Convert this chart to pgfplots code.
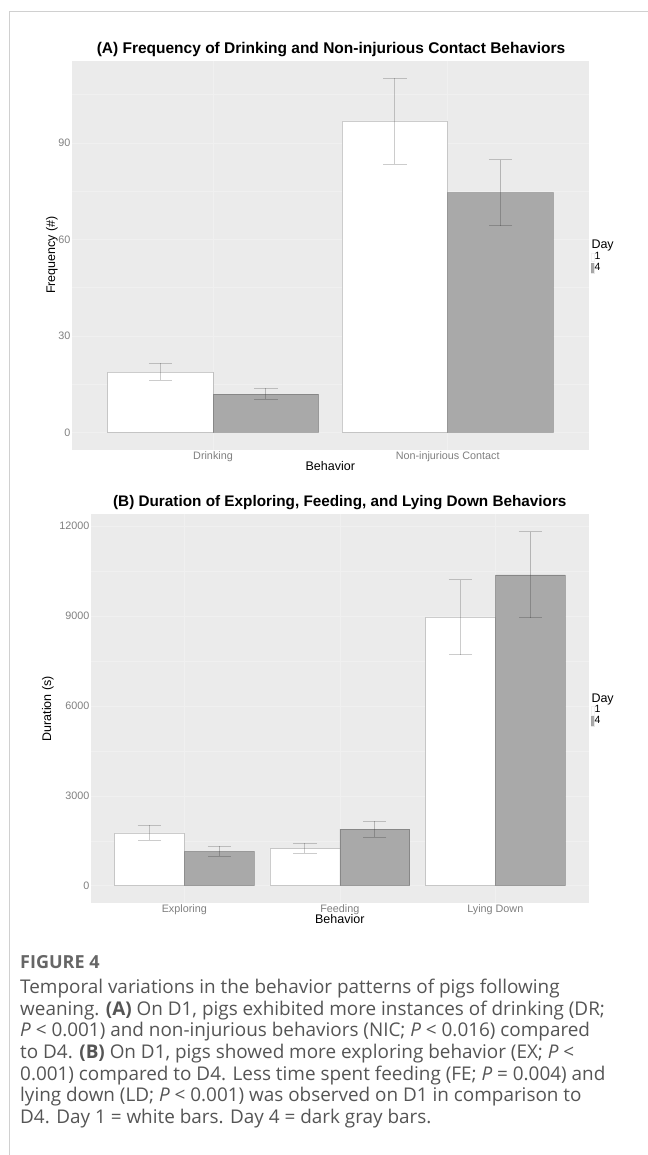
\documentclass[border=0pt]{standalone}
\usepackage{fontspec}
\setmainfont{Liberation Sans}
\newfontfamily\capfont{Open Sans}
\usepackage{pgfplots}
\pgfplotsset{compat=1.18}
\usepackage{pgfplotstable}
\definecolor{panelbg}{HTML}{EBEBEB}
\definecolor{gridc}{HTML}{F0F0F0}
\definecolor{barDfour}{HTML}{A9A9A9}
\definecolor{ticktxt}{HTML}{808080}
\definecolor{captxt}{HTML}{555555}
\definecolor{capfig}{HTML}{666666}
\definecolor{framec}{HTML}{D0D0D0}

\pgfplotstableread{
x y ep em
1 18.7 2.8 2.5
2 96.8 13.3 13.4
}\tabAone
\pgfplotstableread{
x y ep em
1 11.9 1.8 1.6
2 74.5 10.3 10.3
}\tabAfour
\pgfplotstableread{
x y ep em
1 1760 250 250
2 1250 160 170
3 8960 1250 1250
}\tabBone
\pgfplotstableread{
x y ep em
1 1150 160 170
2 1890 260 280
3 10370 1440 1420
}\tabBfour

\pgfplotsset{
  panel/.style={
    scale only axis,
    axis background/.style={fill=panelbg},
    axis line style={draw=none},
    ybar, bar width=0.45,
    grid=both,
    major grid style={draw=gridc, line width=0.6bp},
    minor grid style={draw=gridc, line width=0.4bp},
    major tick length=0pt, minor tick length=0pt,
    tick style={draw=none},
    tick label style={font=\fontsize{10.8bp}{12bp}\selectfont, text=ticktxt},
    yticklabel style={inner sep=0pt, xshift=-1.5bp},
    xticklabel style={inner sep=0pt, yshift=-1.5bp},
    /pgf/number format/assume math mode=true,
    /pgf/number format/1000 sep={},
    scaled y ticks=false,
    legend cell align=left,
    legend style={draw=none, fill=none, inner sep=0pt, outer sep=0pt, row sep=0pt,
      nodes={inner ysep=0pt, inner xsep=0.6bp, text height=7.6bp, text depth=3bp,
             font=\fontsize{10.5bp}{12bp}\selectfont}},
  },
  dayone/.style={fill=white, draw=black, draw opacity=0.2, line width=0.6bp,
    bar shift=-0.225,
    legend image code/.code={\draw[fill=white, draw=black!25, line width=0.5bp] (0bp,-4.3bp) rectangle (2.6bp,4.3bp);},
    error bars/.cd, y dir=both, y explicit,
    error bar style={draw=black, draw opacity=0.2, line width=0.8bp},
    error mark options={draw=black, draw opacity=0.2, line width=0.8bp, mark size=11.7bp, rotate=90}},
  dayfour/.style={fill=barDfour, draw=black, draw opacity=0.2, line width=0.6bp,
    bar shift=0.225,
    legend image code/.code={\draw[fill=barDfour, draw=black!45, line width=0.5bp] (0bp,-4.8bp) rectangle (2.6bp,4.8bp);},
    error bars/.cd, y dir=both, y explicit,
    error bar style={draw=black, draw opacity=0.2, line width=0.8bp},
    error mark options={draw=black, draw opacity=0.2, line width=0.8bp, mark size=11.7bp, rotate=90}},
}

\begin{document}
\begin{tikzpicture}
\path[use as bounding box] (0bp,0bp) rectangle (648bp,-1155bp);
\fill[white] (0bp,0bp) rectangle (648bp,-1155bp);
\draw[framec, line width=1bp] (9bp,-1155bp) -- (9bp,-11.5bp) -- (648bp,-11.5bp);

% ---------- Panel A ----------
\begin{axis}[panel,
  at={(72.2bp,-60.5bp)}, anchor=north west,
  width=516.3bp, height=389.5bp,
  xmin=0.4, xmax=2.6, ymin=-5.5, ymax=115.6,
  xtick={1,2}, xticklabels={Drinking, Non-injurious Contact},
  ytick={0,30,60,90}, minor ytick={15,45,75,105},
  legend style={at={(1.0049,0.508)}, anchor=north west},
]
\addplot[dayone] table[x=x, y=y, y error plus=ep, y error minus=em] {\tabAone};
\addlegendentry{1}
\addplot[dayfour] table[x=x, y=y, y error plus=ep, y error minus=em] {\tabAfour};
\addlegendentry{4}
\end{axis}

% ---------- Panel B ----------
\begin{axis}[panel,
  at={(91bp,-514bp)}, anchor=north west,
  width=497.6bp, height=389.4bp,
  xmin=0.4, xmax=3.6, ymin=-590, ymax=12404,
  xtick={1,2,3}, xticklabels={Exploring, Feeding, Lying Down},
  ytick={0,3000,6000,9000,12000}, minor ytick={1500,4500,7500,10500},
  legend style={at={(1.0048,0.509)}, anchor=north west},
]
\addplot[dayone] table[x=x, y=y, y error plus=ep, y error minus=em] {\tabBone};
\addlegendentry{1}
\addplot[dayfour] table[x=x, y=y, y error plus=ep, y error minus=em] {\tabBfour};
\addlegendentry{4}
\end{axis}

% ---------- Titles and labels ----------
\node[anchor=base, inner sep=0pt, font=\bfseries\fontsize{15.5bp}{18bp}\selectfont] at (331bp,-53bp)
  {(A) Frequency of Drinking and Non-injurious Contact Behaviors};
\node[anchor=base, inner sep=0pt, font=\bfseries\fontsize{15.3bp}{18bp}\selectfont] at (339.8bp,-506.5bp)
  {(B) Duration of Exploring, Feeding, and Lying Down Behaviors};
\node[anchor=base, inner sep=0pt, font=\fontsize{12.5bp}{15bp}\selectfont] at (330.3bp,-470.5bp) {Behavior};
\node[anchor=base, inner sep=0pt, font=\fontsize{12.5bp}{15bp}\selectfont] at (339.8bp,-923.5bp) {Behavior};
\node[rotate=90, inner sep=0pt, font=\fontsize{12.5bp}{15bp}\selectfont] at (52bp,-255bp) {Frequency (\#)};
\node[rotate=90, inner sep=0pt, font=\fontsize{12.5bp}{15bp}\selectfont] at (48bp,-708.7bp) {Duration (s)};
\node[anchor=base west, inner sep=0pt, font=\fontsize{12.5bp}{15bp}\selectfont] at (591.3bp,-248.5bp) {Day};
\node[anchor=base west, inner sep=0pt, font=\fontsize{12.5bp}{15bp}\selectfont] at (591.3bp,-702.5bp) {Day};

% ---------- Caption ----------
\begin{scope}[every node/.style={anchor=base west, inner sep=0pt, text=captxt,
    font=\capfont\fontsize{18.9bp}{22bp}\selectfont}]
\node[text=capfig, font=\capfont\bfseries\fontsize{18bp}{20bp}\selectfont] at (20bp,-968.5bp) {FIGURE 4};
\node at (20bp,-993.5bp) {Temporal variations in the behavior patterns of pigs following};
\node at (20bp,-1015.2bp) {weaning. \textbf{(A)} On D1, pigs exhibited more instances of drinking (DR;};
\node at (20bp,-1036.8bp) {\textit{P} < 0.001) and non-injurious behaviors (NIC; \textit{P} < 0.016) compared};
\node at (20bp,-1058.5bp) {to D4. \textbf{(B)} On D1, pigs showed more exploring behavior (EX; \textit{P} <};
\node at (20bp,-1080.2bp) {0.001) compared to D4. Less time spent feeding (FE; \textit{P} = 0.004) and};
\node at (20bp,-1101.8bp) {lying down (LD; \textit{P} < 0.001) was observed on D1 in comparison to};
\node at (20bp,-1123.5bp) {D4. Day 1 = white bars. Day 4 = dark gray bars.};
\end{scope}
\end{tikzpicture}
\end{document}
